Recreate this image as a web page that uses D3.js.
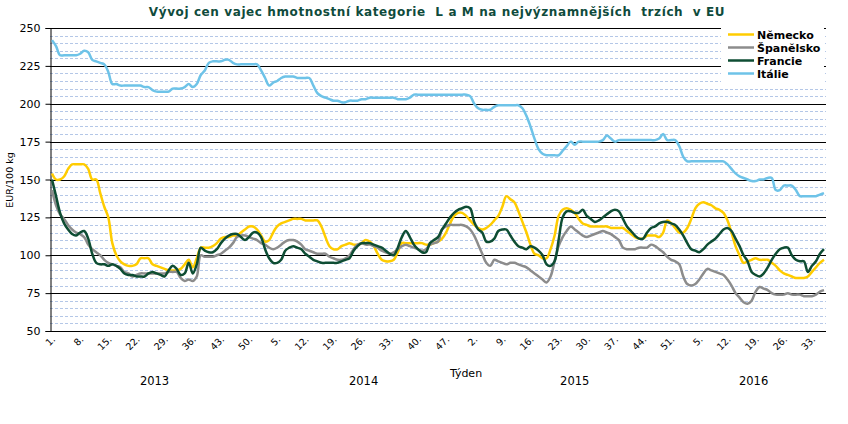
<!DOCTYPE html>
<html><head><meta charset="utf-8">
<script src="https://cdn.jsdelivr.net/npm/d3@7"></script>
<style>body{margin:0;background:#fff}svg{display:block;font-family:"DejaVu Sans",Verdana,sans-serif}</style>
</head><body>
<svg id="c" width="848" height="424"></svg>
<script>
const title = "Vývoj cen vajec hmotnostní kategorie  L a M na nejvýznamnějších  trzích  v EU";
const years = ["2013","2014","2015","2016"];
const weeksPerYear = [52,52,53,36];
const seriesNames = ["Německo","Španělsko","Francie","Itálie"];
const yTicks = [50,75,100,125,150,175,200,225,250];

const germany = [154,150,150,152,157,160,160,160,160,157,
150,150,141,132,125,108,100,96,94,93,
93,94,98,98,98,94,93,92,91,90,
90,90,91,94,97,92,98,105,105,105,
106,108,111,112,112,113,113,115,117,119,
119,117,113,109,110,115,119,121,122,123,
124,124,124,123,123,123,123,119,112,106,
104,104,106,107,108,107,107,108,110,109,
106,101,97,96,96,97,102,108,108,108,
108,108,108,107,107,108,109,111,115,121,
126,128,128,126,123,120,118,117,118,120,
123,126,132,139,137,135,129,122,115,107,
101,100,98,98,104,113,126,130,131,130,
128,124,121,120,119,119,119,119,119,118,
118,118,118,116,114,112,111,111,113,113,
113,112,115,123,121,118,115,115,118,124,
131,134,135,134,133,131,130,128,123,115,
106,100,95,96,97,98,97,97,97,95,
93,90,88,87,86,85,85,85,86,89,
92,95,97];
const spain = [143,133,127,124,120,117,115,114,112,107,
104,102,100,97,95,94,93,92,89,88,
86,87,88,88,88,88,88,88,88,89,
89,89,85,83,84,83,86,100,99,99,
99,100,101,103,105,108,112,113,113,112,
111,110,108,107,105,104,105,107,109,110,
110,109,107,104,103,102,101,101,101,99,
98,97,97,98,100,104,107,108,107,107,
106,105,103,102,101,102,104,106,107,106,
105,104,103,104,107,108,109,117,119,120,
120,120,120,119,117,113,107,101,95,93,
97,96,95,94,95,95,94,93,92,90,
88,86,84,82,86,96,106,112,116,119,
117,115,113,112,113,114,115,116,115,114,
112,110,105,104,104,104,105,105,105,107,
106,104,102,99,97,96,94,86,81,80,
81,84,88,91,90,89,88,87,84,80,
75,72,69,68,70,76,79,78,77,75,
74,74,74,75,74,74,74,73,73,73,
74,76,77];
const france = [150,139,128,121,117,114,113,115,116,111,
101,95,94,94,93,94,93,91,88,87,
87,86,86,86,88,89,88,87,86,90,
93,91,87,88,95,88,94,105,103,102,
102,104,108,111,113,114,114,112,110,112,
115,115,112,104,98,95,95,97,103,105,
106,105,104,101,99,97,96,95,95,95,
95,95,96,97,98,103,106,108,108,108,
107,106,105,103,101,100,105,112,116,112,
107,104,102,102,108,110,112,117,121,125,
128,130,131,132,131,122,117,115,109,109,
111,116,117,117,113,109,106,105,104,106,
105,103,100,94,93,96,110,125,129,129,
128,128,130,126,124,122,123,125,127,129,
130,129,124,119,116,113,111,111,115,118,
119,121,122,122,121,120,117,113,108,104,
103,102,104,107,109,111,114,117,118,116,
111,106,100,96,89,87,86,88,92,97,
101,104,105,105,100,97,96,96,89,93,
96,101,104];
const italy = [242,238,232,232,232,232,232,233,235,234,
229,228,227,226,221,213,213,212,212,212,
212,212,212,211,211,209,208,208,208,208,
210,210,210,211,213,211,213,219,222,227,
228,228,228,229,229,227,226,226,226,226,
226,226,222,217,212,214,215,217,218,218,
218,217,217,217,217,212,207,205,204,203,
202,202,201,201,202,202,202,203,203,204,
204,204,204,204,204,204,203,203,203,204,
206,206,206,206,206,206,206,206,206,206,
206,206,206,206,205,200,197,196,196,196,
198,199,199,199,199,199,199,197,192,185,
177,170,167,166,166,166,166,169,172,175,
173,175,175,175,175,175,175,176,179,177,
175,176,176,176,176,176,176,176,176,176,
176,177,180,176,176,176,172,165,162,162,
162,162,162,162,162,162,162,162,160,157,
154,152,151,150,149,149,150,150,151,151,
143,143,146,146,146,143,139,139,139,139,
139,140,141];
const colors = ["#FFCC00","#8C8C8C","#0E4D33","#6EC3E8"];

// categories: week labels grouped by year
const weeks = [];
years.forEach((yr,k)=>{ for(let w=1; w<=weeksPerYear[k]; w++) weeks.push({year:yr, week:w}); });
const allSeries = [germany, spain, france, italy];

const svg = d3.select("#c");
const L=50, R=826, T=28, B=331;
const x = d3.scaleLinear().domain([-0.5, weeks.length-0.5]).range([L,R]);
const y = d3.scaleLinear().domain([50,250]).range([B,T]);

// minor gridlines
const minor = d3.range(55,250,5).filter(v=>v%25!==0);
svg.append("g").selectAll("line").data(minor).join("line")
  .attr("x1",L).attr("x2",R).attr("y1",d=>Math.round(y(d))+0.5).attr("y2",d=>Math.round(y(d))+0.5)
  .attr("stroke","#B4C7E7").attr("stroke-width",1).attr("stroke-dasharray","3,2");
// major gridlines
svg.append("g").selectAll("line").data(yTicks.filter(v=>v>50)).join("line")
  .attr("x1",L).attr("x2",R).attr("y1",d=>Math.round(y(d))+0.5).attr("y2",d=>Math.round(y(d))+0.5)
  .attr("stroke","#000").attr("stroke-width",1);

// y axis
const yAxis = d3.axisLeft(y).tickValues(yTicks).tickSize(5).tickPadding(5).tickFormat(d3.format("d"));
const gy = svg.append("g").attr("transform",`translate(${L+0.5},0)`).call(yAxis);
gy.select(".domain").attr("stroke","#000");
gy.selectAll(".tick line").attr("stroke","#000");
gy.selectAll(".tick text").attr("font-size","11px").attr("fill","#000").attr("font-family","DejaVu Sans");

// x axis line
svg.append("line").attr("x1",L).attr("x2",R).attr("y1",Math.round(y(50))+0.5).attr("y2",Math.round(y(50))+0.5).attr("stroke","#000");

// week tick labels every 7th week
const tickIdx = d3.range(0, weeks.length, 7);
svg.append("g").selectAll("text").data(tickIdx).join("text")
  .attr("transform",d=>`translate(${x(d)+4},${B+9}) rotate(-45)`)
  .attr("text-anchor","end").attr("font-size","9.5px").attr("fill","#000")
  .text(d=>weeks[d].week+".");

// year labels
let start=0;
years.forEach((yr,k)=>{
  const mid = start + (weeksPerYear[k]-1)/2;
  svg.append("text").attr("x",x(mid)).attr("y",385).attr("text-anchor","middle")
    .attr("font-size","11.5px").attr("fill","#000").text(yr);
  start += weeksPerYear[k];
});
svg.append("text").attr("x",466).attr("y",377).attr("text-anchor","middle")
  .attr("font-size","11px").attr("fill","#000").text("Týden");

// y title
svg.append("text").attr("transform","translate(13,180) rotate(-90)").attr("text-anchor","middle")
  .attr("font-size","9.5px").attr("fill","#000").text("EUR/100 kg");

// lines
const line = d3.line().x((d,i)=>x(i)).y(d=>y(d)).curve(d3.curveCatmullRom.alpha(0.5));
allSeries.forEach((s,k)=>{
  svg.append("path").datum(s).attr("d",line).attr("fill","none")
    .attr("stroke",colors[k]).attr("stroke-width",2.5).attr("stroke-linejoin","round");
});

// title
svg.append("text").attr("x",437).attr("y",16).attr("text-anchor","middle")
  .attr("font-size","12px").attr("font-weight","bold").attr("fill","#0F4B3C")
  .attr("letter-spacing","0.6px")
  .style("white-space","pre").text(title);

// legend
const lg = svg.append("g");
lg.append("rect").attr("x",721).attr("y",25).attr("width",103).attr("height",57).attr("fill","#fff");
seriesNames.forEach((n,k)=>{
  const yy = 34.5 + k*13;
  lg.append("line").attr("x1",728).attr("x2",754).attr("y1",yy).attr("y2",yy)
    .attr("stroke",colors[k]).attr("stroke-width",2.5);
  lg.append("text").attr("x",757).attr("y",yy+4).attr("font-size","11px").attr("font-weight","bold")
    .attr("fill","#000").text(n);
});
</script>
</body></html>
